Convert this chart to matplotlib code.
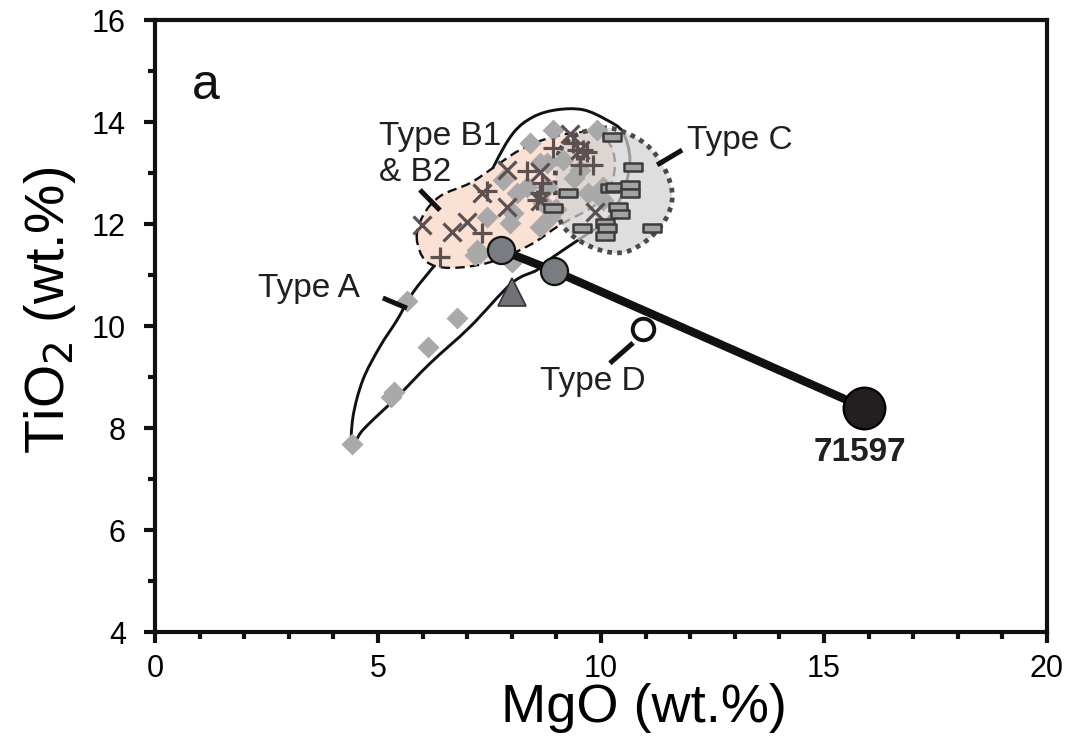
import numpy as np
import matplotlib
matplotlib.use("Agg")
import matplotlib.pyplot as plt
from matplotlib.path import Path
from matplotlib.patches import PathPatch
from matplotlib.ticker import MultipleLocator

plt.rcParams['font.family'] = ['Liberation Sans', 'DejaVu Sans']

# ---------------- data ----------------
# Type A (grey diamonds)
typeA_mgo = [4.42, 5.30, 5.36, 5.65, 6.12, 6.77, 7.17, 7.22, 7.29, 7.44, 7.80, 7.96,
             8.03, 8.12, 8.34, 8.41, 8.63, 8.63, 8.70, 8.79, 8.79, 8.86, 8.92, 9.00,
             9.15, 9.53, 9.91, 9.98, 10.04, 10.04, 7.96, 8.00, 9.40, 9.70]
typeA_tio2 = [7.68, 8.60, 8.70, 10.50, 9.58, 10.15, 11.40, 11.49, 11.43, 12.14, 12.86, 12.02,
              12.22, 12.61, 12.73, 13.59, 13.20, 11.94, 12.41, 13.20, 12.73, 12.14, 13.84, 12.30,
              13.25, 13.06, 13.84, 12.53, 12.73, 12.47, 11.29, 11.25, 12.90, 12.60]

# Type B1 (x marks)
typeB1_mgo = [5.99, 6.66, 6.99, 7.33, 7.89, 7.89, 8.63, 8.63, 9.30, 9.53, 9.87]
typeB1_tio2 = [11.98, 11.84, 12.04, 12.61, 13.06, 12.33, 13.02, 12.45, 13.76, 13.45, 12.24]

# Type B2 (+ marks)
typeB2_mgo = [6.39, 7.33, 7.45, 8.34, 8.57, 8.63, 8.68, 8.92, 9.37, 9.46, 9.60, 9.53, 9.82, 9.69]
typeB2_tio2 = [11.35, 11.82, 12.65, 13.04, 12.47, 12.61, 12.80, 13.49, 13.59, 13.45, 13.45, 13.16, 13.16, 13.41]

# Type C (rectangles)
typeC_mgo = [10.25, 10.72, 9.26, 8.92, 10.20, 10.31, 10.65, 10.65, 10.38, 10.43,
             9.57, 10.09, 10.13, 10.09, 11.14]
typeC_tio2 = [13.71, 13.12, 12.61, 12.31, 12.71, 12.73, 12.76, 12.61, 12.33, 12.20,
              11.92, 12.02, 11.92, 11.76, 11.92]

# Type D (open circle)
typeD_mgo = [10.94]
typeD_tio2 = [9.94]

# triangle sample
tri_mgo = [8.0]
tri_tio2 = [10.67]

# model line: two grey circles and sample 71597
model_mgo = [7.76, 8.95, 15.9]
model_tio2 = [11.49, 11.08, 8.40]

# field outlines (vertices)
fieldA_mgo = [4.42, 4.44, 4.66, 5.04, 5.43, 5.78, 6.32, 6.95, 7.58, 8.03, 8.48, 9.01,
              9.60, 10.13, 10.49, 10.65, 10.49, 10.13, 9.60, 8.92, 8.57, 8.00, 7.06,
              6.17, 5.43, 4.66]
fieldA_tio2 = [7.63, 8.22, 8.94, 9.59, 10.12, 10.65, 11.24, 11.88, 13.10, 13.78, 14.10, 14.24,
               14.24, 14.04, 13.80, 13.25, 12.61, 12.08, 11.75, 11.35, 11.10, 10.84, 9.98,
               9.27, 8.61, 7.96]

fieldB_mgo = [5.87, 6.02, 6.40, 7.06, 7.58, 8.18, 8.92, 9.69, 10.13, 10.31, 10.22,
              9.87, 9.08, 8.41, 7.51, 6.61, 6.08]
fieldB_tio2 = [11.72, 12.18, 12.55, 12.80, 13.10, 13.45, 13.71, 13.80, 13.65, 13.25, 12.76,
               12.37, 11.98, 11.59, 11.25, 11.14, 11.27]

fieldC_mgo = [9.08, 9.53, 10.20, 10.87, 11.32, 11.59, 11.50, 11.10, 10.54, 9.98, 9.42, 9.08, 8.97]
fieldC_tio2 = [13.45, 13.78, 13.88, 13.65, 13.25, 12.67, 12.18, 11.73, 11.45, 11.49, 11.73, 12.08, 12.76]

# labels: text, x, y, leader (x0, y0, x1, y1)
labels = [
    ("Type B1\n& B2", 5.02, 13.36, (5.94, 12.67, 6.39, 12.27)),
    ("Type C", 11.92, 13.63, (11.26, 13.16, 11.82, 13.45)),
    ("Type A", 2.31, 10.74, (5.11, 10.55, 5.65, 10.35)),
    ("Type D", 8.63, 8.92, (10.20, 9.27, 10.72, 9.67)),
]

x_ticks = [0, 5, 10, 15, 20]
y_ticks = [4, 6, 8, 10, 12, 14, 16]


def smooth_closed_path(xs, ys):
    pts = np.column_stack([xs, ys])
    n = len(pts)
    verts = [pts[0]]
    codes = [Path.MOVETO]
    for i in range(n):
        p0 = pts[(i - 1) % n]
        p1 = pts[i]
        p2 = pts[(i + 1) % n]
        p3 = pts[(i + 2) % n]
        c1 = p1 + (p2 - p0) / 6.0
        c2 = p2 - (p3 - p1) / 6.0
        verts += [c1, c2, p2]
        codes += [Path.CURVE4] * 3
    return Path(verts, codes)


fig = plt.figure(figsize=(10.68, 7.47), dpi=100)
ax = fig.add_axes([0.1451, 0.1539, 0.8352, 0.8193])
ax.set_xlim(0, 20)
ax.set_ylim(4, 16)

# field A outline
ax.add_patch(PathPatch(smooth_closed_path(fieldA_mgo, fieldA_tio2), fc='none',
                       ec='#111111', lw=2.1, zorder=1))
# field B
ax.add_patch(PathPatch(smooth_closed_path(fieldB_mgo, fieldB_tio2), fc='#fbe0d4',
                       ec='none', zorder=2))
ax.add_patch(PathPatch(smooth_closed_path(fieldB_mgo, fieldB_tio2), fc='none',
                       ec='#111111', lw=1.7, ls=(0, (4, 2.2)), zorder=2.5))
# field C (semi-transparent)
ax.add_patch(PathPatch(smooth_closed_path(fieldC_mgo, fieldC_tio2), fc='#d2d2d2',
                       alpha=0.72, ec='none', zorder=3))
ax.add_patch(PathPatch(smooth_closed_path(fieldC_mgo, fieldC_tio2), fc='none',
                       ec='#4a4a4a', lw=3.4, ls=(0, (1.0, 1.1)), zorder=3.2))

# points
ax.plot(typeA_mgo, typeA_tio2, ls='none', marker='D', ms=11.5, mfc='#a9a9a9',
        mec='none', zorder=4)
ax.plot(typeB1_mgo, typeB1_tio2, ls='none', marker='x', ms=12.5, mew=2.3,
        color='#5b5151', zorder=4.5)
ax.plot(typeB2_mgo, typeB2_tio2, ls='none', marker='+', ms=14, mew=2.3,
        color='#5b5151', zorder=4.5)
rect = Path([(-1, -0.42), (1, -0.42), (1, 0.42), (-1, 0.42), (-1, -0.42)],
            [Path.MOVETO, Path.LINETO, Path.LINETO, Path.LINETO, Path.CLOSEPOLY])
ax.plot(typeC_mgo, typeC_tio2, ls='none', marker=rect, ms=12.5, mfc='#a3a3a3',
        mec='#3c3c3c', mew=1.8, zorder=5)

# model line and circles
ax.plot(model_mgo, model_tio2, color='#111111', lw=6.0, solid_capstyle='butt', zorder=6)
ax.plot(model_mgo[:2], model_tio2[:2], ls='none', marker='o', ms=19.5, mfc='#797c80',
        mec='#111111', mew=1.6, zorder=7)
ax.plot(model_mgo[2:], model_tio2[2:], ls='none', marker='o', ms=30, mfc='#231f20',
        mec='#000000', mew=1.6, zorder=7)
ax.plot(tri_mgo, tri_tio2, ls='none', marker='^', ms=20, mfc='#707275',
        mec='#333333', mew=1.2, zorder=7)
ax.plot(typeD_mgo, typeD_tio2, ls='none', marker='o', ms=15.5, mfc='white',
        mec='#111111', mew=2.8, zorder=7)

# labels with leaders
for txt, tx, ty, (x0, y0, x1, y1) in labels:
    ax.text(tx, ty, txt, fontsize=24, ha='left', va='center', color='#231f20',
            linespacing=1.2, zorder=8)
    ax.plot([x0, x1], [y0, y1], color='#111111', lw=3.6, solid_capstyle='butt', zorder=8)

ax.text(model_mgo[2] - 0.1, model_tio2[2] - 0.87, "71597", fontsize=24, fontweight='bold',
        ha='center', va='center', color='#231f20', zorder=8)
ax.text(0.83, 14.7, "a", fontsize=36, ha='left', va='center', color='#111111')

# axes styling
for s in ax.spines.values():
    s.set_linewidth(3.0)
    s.set_color('#111111')
ax.set_xticks(x_ticks)
ax.set_yticks(y_ticks)
ax.xaxis.set_minor_locator(MultipleLocator(1))
ax.yaxis.set_minor_locator(MultipleLocator(1))
ax.tick_params(which='major', direction='out', length=8, width=3, labelsize=22,
               color='#111111', top=False, right=False)
ax.tick_params(axis='x', which='major', pad=8)
ax.tick_params(axis='y', which='major', pad=13)
ax.tick_params(which='minor', direction='out', length=5, width=3, color='#111111',
               top=False, right=False)

ax.set_xlabel("MgO (wt.%)", fontsize=39)
ax.xaxis.set_label_coords(0.548, -0.084, transform=ax.transAxes)
ax.xaxis.label.set_va('top')
ax.set_ylabel("TiO$_2$ (wt.%)", fontsize=40)
ax.yaxis.set_label_coords(-0.086, 0.526)

fig.savefig("out.png", dpi=100)
